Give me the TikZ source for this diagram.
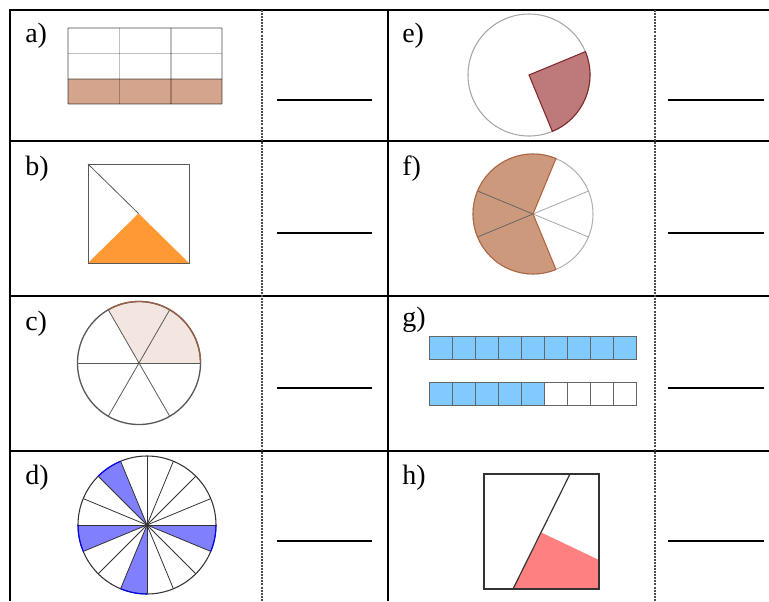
\documentclass[tikz,border=0pt]{standalone}
\usepackage{fontspec}
\setmainfont{Liberation Serif}
\usepackage{xcolor}
\usepackage{tikz}

\definecolor{clayfill}{RGB}{212,164,140}
\definecolor{blushfill}{RGB}{243,230,224}
\definecolor{clayline}{RGB}{150,95,70}
\definecolor{violetfill}{RGB}{128,128,255}
\definecolor{winefill}{RGB}{190,122,122}
\definecolor{wineline}{RGB}{130,40,40}
\definecolor{tanfill}{RGB}{205,153,125}
\definecolor{tanline}{RGB}{180,100,60}
\definecolor{skyfill}{RGB}{128,202,255}
\definecolor{orangefill}{RGB}{255,153,51}
\definecolor{salmonfill}{RGB}{255,128,128}

\begin{document}
\begin{tikzpicture}[x=0.75pt, y=-0.75pt,
    rule/.style={line width=1.9pt},
    midrule/.style={gray!60!black, line width=0.8pt, dash pattern=on 1.5pt off 0.8pt},
    blank/.style={line width=1.1pt},
    item/.style={anchor=base west, font=\fontsize{21}{24}\selectfont, inner sep=0pt},
    edge/.style={gray!70!black, line width=0.6pt},
    spoke/.style={black!65, line width=0.6pt}]
    \useasboundingbox (0,0) rectangle (769,601);

    % table
    \foreach \yy in {10, 141, 296, 451} {
        \draw[rule] (9,\yy) -- (769,\yy);
    }
    \draw[rule] (10,9) -- (10,601);
    \draw[rule] (388,9) -- (388,601);
    \draw[midrule] (262,10) -- (262,601);
    \draw[midrule] (655,10) -- (655,601);
    \foreach \yy in {100, 233, 388, 541} {
        \draw[blank] (277,\yy) -- (372,\yy);
        \draw[blank] (668,\yy) -- (764,\yy);
    }

    \node[item] (la) at (25,42) {a)};
    \node[item] (lb) at (25,175) {b)};
    \node[item] (lc) at (25,330) {c)};
    \node[item] (ld) at (25,484) {d)};
    \node[item] (le) at (402,42) {e)};
    \node[item] (lf) at (402,175) {f)};
    \node[item] (lg) at (402,326) {g)};
    \node[item] (lh) at (402,484) {h)};

    % a) grid
    \fill[clayfill] (68,78.7) rectangle (222,104);
    \foreach \xx in {68, 119.3, 170.7, 222} {
        \draw[black, opacity=0.25, line width=1.2pt] (\xx,28) -- (\xx,104);
    }
    \foreach \yy in {28, 53.3, 78.7, 104} {
        \draw[black, opacity=0.25, line width=1.2pt] (68,\yy) -- (222,\yy);
    }

    % b) square
    \fill[orangefill] (88,263) -- (189,263) -- (138.5,213.5) -- cycle;
    \draw[edge] (88,164) rectangle (189,263);
    \draw[edge] (88,164) -- (138.5,213.5);

    % c) sixths
    \begin{scope}[shift={(139,363)}, y=0.75pt]
        \fill[blushfill] (0,0) -- (0:61.5) arc[start angle=0, end angle=120, radius=61.5] -- cycle;
        \draw[edge, line width=1pt] (0,0) circle (61.5);
        \foreach \a in {0, 60, ..., 300} {
            \draw[spoke] (0,0) -- (\a:61.5);
        }
        \draw[clayline, line width=1pt] (0:61.5) arc[start angle=0, end angle=120, radius=61.5];
    \end{scope}

    % d) sixteenths
    \begin{scope}[shift={(147,525)}, y=0.75pt]
        \foreach \a in {112.5, 180, 247.5, 337.5} {
            \fill[violetfill] (0,0) -- (\a:69) arc[start angle=\a, delta angle=22.5, radius=69] -- cycle;
        }
        \draw[black!80, line width=0.8pt] (0,0) circle (69);
        \foreach \a in {0, 22.5, ..., 337.5} {
            \draw[black!80, line width=0.6pt] (0,0) -- (\a:69);
        }
        \foreach \a in {112.5, 180, 247.5, 337.5} {
            \draw[blue, line width=0.8pt] (\a:69) arc[start angle=\a, delta angle=22.5, radius=69];
        }
    \end{scope}

    % e) quarter
    \begin{scope}[shift={(529,75)}, y=0.75pt]
        \draw[gray!70, line width=0.8pt] (0,0) circle (61);
        \filldraw[fill=winefill, draw=wineline, line width=0.8pt] (0,0) -- (-67.5:61)
            arc[start angle=-67.5, end angle=22.5, radius=61] -- cycle;
    \end{scope}

    % f) eighths
    \begin{scope}[shift={(533,214)}, y=0.75pt]
        \fill[tanfill] (0,0) -- (67.5:60) arc[start angle=67.5, end angle=292.5, radius=60] -- cycle;
        \draw[gray!60, line width=0.8pt] (0,0) circle (60);
        \foreach \a in {22.5, -22.5} {
            \draw[gray!70, line width=0.6pt] (0,0) -- (\a:60);
        }
        \foreach \a in {157.5, 202.5} {
            \draw[black!60, line width=0.6pt] (0,0) -- (\a:60);
        }
        \draw[tanline, line width=0.8pt] (292.5:60) -- (0,0) -- (67.5:60)
            arc[start angle=67.5, end angle=292.5, radius=60];
    \end{scope}

    % g) bars
    \foreach \i in {0, ..., 8} {
        \filldraw[fill=skyfill, draw=black!60, line width=0.6pt] ({429+23*\i},336) rectangle ({452+23*\i},359);
    }
    \foreach \i in {0, ..., 4} {
        \filldraw[fill=skyfill, draw=black!60, line width=0.6pt] ({429+23*\i},382) rectangle ({452+23*\i},405);
    }
    \foreach \i in {5, ..., 8} {
        \draw[black!60, line width=0.6pt] ({429+23*\i},382) rectangle ({452+23*\i},405);
    }

    % h) square
    \fill[salmonfill] (513,589) -- (599,589) -- (599,560) -- (541.7,532.7) -- cycle;
    \draw[black!80, line width=0.8pt] (484,474) rectangle (599,589);
    \draw[black!80, line width=0.9pt] (570,474) -- (513,589);
\end{tikzpicture}
\end{document}
